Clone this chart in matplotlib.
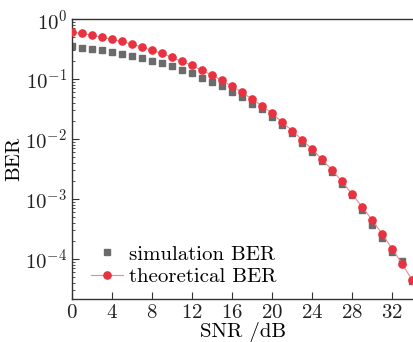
import numpy as np
import matplotlib
matplotlib.use('Agg')
import matplotlib.pyplot as plt

plt.rcParams['font.family'] = 'cmr10'
plt.rcParams['mathtext.fontset'] = 'cm'
plt.rcParams['axes.formatter.use_mathtext'] = True

# SNR points (dB)
snr = list(range(0, 35))

# log10(BER)
sim_log = [-0.45, -0.478, -0.50, -0.522, -0.55, -0.578, -0.61, -0.655, -0.695, -0.733,
           -0.789, -0.845, -0.90, -0.978, -1.045, -1.122, -1.21, -1.305, -1.41, -1.505,
           -1.628, -1.767, -1.905, -2.06, -2.22, -2.367, -2.55, -2.75, -2.93, -3.19,
           -3.43, -3.65, -3.89, -4.03, -4.37]
theo_log = [-0.217, -0.238, -0.267, -0.30, -0.338, -0.372, -0.417, -0.467, -0.522, -0.572,
            -0.638, -0.705, -0.772, -0.855, -0.933, -1.022, -1.122, -1.222, -1.333, -1.45,
            -1.572, -1.717, -1.86, -2.01, -2.17, -2.34, -2.52, -2.71, -2.92, -3.13,
            -3.35, -3.58, -3.83, -4.08, -4.35]

sim_ber = 10 ** np.array(sim_log)
theo_ber = 10 ** np.array(theo_log)

fig = plt.figure(figsize=(4.14, 3.42), dpi=100)
ax = fig.add_axes([0.174, 0.126, 0.826, 0.818])

ax.semilogy(snr, sim_ber, 's', color='#6b6b6b', markersize=4, label='simulation BER', zorder=2)
ax.semilogy(snr, theo_ber, 'o-', color='#ee8a8a', markersize=5.2, lw=0.8,
            markerfacecolor='#e8323f', markeredgecolor='#e8323f', label='theoretical BER', zorder=3)

ax.set_xlim(0, 34.2)
ax.set_ylim(10 ** -4.67, 1)
ax.set_xticks(range(0, 33, 4))

for s in ['left', 'bottom', 'top']:
    ax.spines[s].set_color('#333333')
    ax.spines[s].set_linewidth(1.0)
ax.spines['right'].set_visible(False)

ax.tick_params(axis='both', which='both', direction='in', top=False, right=False,
               labelsize=15, colors='#333333', labelcolor='#222222')
ax.tick_params(axis='both', which='major', length=5)
ax.tick_params(axis='both', which='minor', length=2.5)

ax.set_xlabel('SNR /dB', fontsize=15, labelpad=0)
ax.set_ylabel('BER', fontsize=15, labelpad=1)

leg = ax.legend(loc='lower left', frameon=False, fontsize=15, handlelength=1.5,
                handletextpad=0.3, labelspacing=0.2, borderaxespad=0.2,
                bbox_to_anchor=(0.02, 0.0))

fig.savefig('out.png', dpi=100)
